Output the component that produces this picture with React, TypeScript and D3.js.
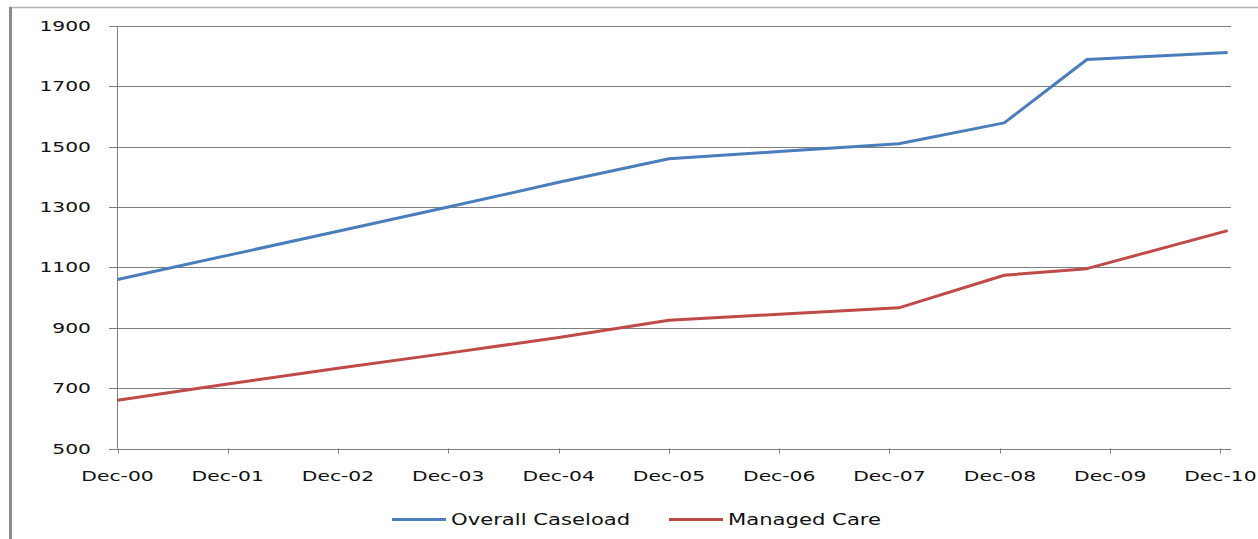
import React from 'react';
import * as d3 from 'd3';

// vertices (month-end points and kinks)
const dates = [
  '2000-12-01', '2001-12-01', '2002-12-01', '2003-12-01', '2004-12-01',
  '2005-12-01', '2006-12-01', '2008-01-01', '2008-12-15', '2009-09-15', '2010-12-25',
];
const overallCaseload = [1060, 1140, 1220, 1300, 1382, 1460, 1484, 1510, 1579, 1789, 1812];
const managedCare = [660, 714, 766, 816, 868, 925, 945, 966, 1074, 1096, 1222];

const yTicks = [500, 700, 900, 1100, 1300, 1500, 1700, 1900];
const xTickDates = d3.range(2000, 2011).map(y => new Date(y, 11, 1));

const SERIES = [
  { name: 'Overall Caseload', values: overallCaseload, color: '#4A7EBB' },
  { name: 'Managed Care', values: managedCare, color: '#BE4B48' },
];

const W = 1258;
const H = 539;
const STRETCH = 1.45; // text in the original is wide
const FONT = '"DejaVu Sans", Verdana, sans-serif';

const parse = d3.timeParse('%Y-%m-%d');

const App: React.FC = () => {
  const x = d3.scaleTime()
    .domain([new Date(2000, 11, 1), new Date(2011, 0, 5)])
    .range([117.5, 1231]);
  const y = d3.scaleLinear().domain([500, 1900]).range([448.5, 26]);
  const fmt = d3.timeFormat('%b-%y');

  const line = d3.line<[Date, number]>()
    .x(d => x(d[0]))
    .y(d => y(d[1]));

  const x0 = 117.5;
  const x1 = 1231;

  return (
    <svg width={W} height={H} style={{ position: 'absolute', left: 0, top: 0, background: '#fff' }}>
      {/* frame */}
      <line x1={9} x2={W} y1={7.5} y2={7.5} stroke="#b4b4b4" strokeWidth={1.5} />
      <rect x={9} y={7} width={3} height={H - 7} fill="#8c8c8c" />

      {/* gridlines + y ticks */}
      {yTicks.map(t => (
        <g key={t}>
          <line x1={109} x2={x1} y1={Math.round(y(t)) + 0.5} y2={Math.round(y(t)) + 0.5} stroke="#7f7f7f" strokeWidth={1} />
          <text
            transform={`translate(91,${y(t) + 5}) scale(${STRETCH},1)`}
            textAnchor="end"
            fontFamily={FONT}
            fontSize={14}
            fill="#111"
          >{t}</text>
        </g>
      ))}

      {/* y axis */}
      <line x1={x0} x2={x0} y1={y(1900)} y2={y(500)} stroke="#7f7f7f" strokeWidth={1} />

      {/* x ticks */}
      {xTickDates.map(d => (
        <g key={d.getTime()}>
          <line x1={Math.round(x(d)) + 0.5} x2={Math.round(x(d)) + 0.5} y1={y(500)} y2={y(500) + 5} stroke="#7f7f7f" strokeWidth={1} />
          <text
            transform={`translate(${x(d)},481) scale(${STRETCH},1)`}
            textAnchor="middle"
            fontFamily={FONT}
            fontSize={14}
            fill="#111"
          >{fmt(d)}</text>
        </g>
      ))}

      {/* series */}
      {SERIES.map(s => (
        <path
          key={s.name}
          d={line(dates.map((d, i) => [parse(d) as Date, s.values[i]])) || ''}
          fill="none"
          stroke={s.color}
          strokeWidth={3}
          strokeLinejoin="round"
        />
      ))}

      {/* legend */}
      {SERIES.map((s, i) => {
        const lx = i === 0 ? 392 : 669;
        return (
          <g key={s.name}>
            <line x1={lx} x2={lx + 54} y1={519.5} y2={519.5} stroke={s.color} strokeWidth={3} />
            <text
              transform={`translate(${lx + 59},525) scale(1.41,1)`}
              fontFamily={FONT}
              fontSize={15}
              fill="#111"
            >{s.name}</text>
          </g>
        );
      })}
    </svg>
  );
};

export default App;
